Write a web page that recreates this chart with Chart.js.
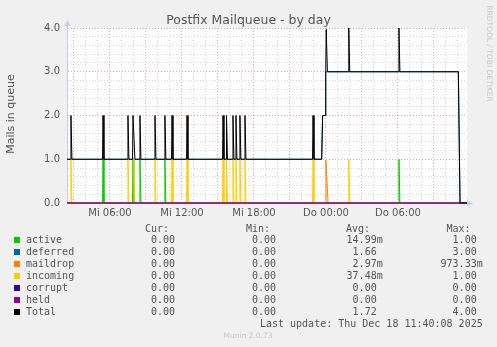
<!DOCTYPE html>
<html lang="en">
<head>
<meta charset="UTF-8">
<title>Postfix Mailqueue - by day</title>
<script src="https://cdn.jsdelivr.net/npm/chart.js"></script>
<style>
    body { margin: 0; background: #f0f0f0; }
    canvas { display: block; }
</style>
</head>
<body>
<canvas id="queueChart" width="497" height="347"></canvas>
<script>
// x values are hours since Wed (Mi) 00:00
const xStart = 2.42;
const xEnd = 35.75;
const xTickHours = [6, 12, 18, 24, 30];
const xTickLabels = ['Mi 06:00', 'Mi 12:00', 'Mi 18:00', 'Do 00:00', 'Do 06:00'];

const seriesNames = ['active', 'deferred', 'maildrop', 'incoming', 'corrupt', 'held', 'Total'];
const seriesColors = ['#00cc00', '#0066b3', '#ff8000', '#ffcc00', '#330099', '#990099', '#000000'];

// [hour, mails]
const active = [[2.42, 0], [5.38, 0], [5.42, 1], [5.5, 0], [7.88, 0], [7.92, 1], [8.0, 0],
    [8.46, 0], [8.5, 1], [8.58, 0], [10.54, 0], [10.58, 1], [10.66, 0],
    [30.04, 0], [30.08, 1], [30.16, 0], [35.75, 0]];
const deferred = [[2.42, 1], [23.64, 1], [23.72, 2], [23.92, 2], [23.98, 3], [35.03, 3], [35.17, 0], [35.75, 0]];
const maildrop = [[2.42, 0], [23.96, 0], [24.0, 0.97], [24.17, 0], [35.75, 0]];
const incoming = [[2.42, 0], [2.71, 0], [2.75, 1], [2.83, 0], [7.46, 0], [7.5, 1], [7.58, 0],
    [7.96, 0], [8.0, 1], [8.08, 0], [9.71, 0], [9.75, 1], [9.83, 0], [11.13, 0], [11.17, 1], [11.25, 0],
    [12.38, 0], [12.42, 1], [12.5, 0], [15.38, 0], [15.42, 1], [15.5, 0], [15.67, 0], [15.71, 1], [15.79, 0],
    [16.21, 0], [16.25, 1], [16.33, 0], [16.46, 0], [16.5, 1], [16.58, 0], [16.79, 0], [16.83, 1], [16.91, 0],
    [17.21, 0], [17.25, 1], [17.33, 0], [22.88, 0], [22.92, 1], [23.0, 0], [25.86, 0], [25.9, 1], [25.98, 0],
    [35.75, 0]];
const corrupt = [[2.42, 0], [35.75, 0]];
const held = [[2.42, 0], [35.75, 0]];
const total = [[2.42, 1], [2.71, 1], [2.75, 2], [2.83, 1], [5.38, 1], [5.42, 2], [5.5, 1],
    [7.46, 1], [7.5, 2], [7.58, 1], [7.88, 1], [7.92, 2], [8.0, 2], [8.08, 1], [8.46, 1], [8.5, 2], [8.58, 1],
    [9.71, 1], [9.75, 2], [9.83, 1], [10.54, 1], [10.58, 2], [10.66, 1], [11.13, 1], [11.17, 2], [11.25, 1],
    [12.38, 1], [12.42, 2], [12.5, 1], [15.38, 1], [15.42, 2], [15.5, 1], [15.67, 1], [15.71, 2], [15.79, 1],
    [16.21, 1], [16.25, 2], [16.33, 1], [16.46, 1], [16.5, 2], [16.58, 1], [16.79, 1], [16.83, 2], [16.91, 1],
    [17.21, 1], [17.25, 2], [17.33, 1], [22.88, 1], [22.92, 2], [23.0, 1],
    [23.64, 1], [23.72, 2], [23.92, 2], [23.98, 3], [24.02, 3.97], [24.12, 3],
    [25.86, 3], [25.9, 4], [25.98, 3], [30.04, 3], [30.08, 4], [30.16, 3],
    [35.03, 3], [35.17, 0], [35.75, 0]];
const seriesData = [active, deferred, maildrop, incoming, corrupt, held, total];

// legend table
const curValues = ['0.00 ', '0.00 ', '0.00 ', '0.00 ', '0.00 ', '0.00 ', '0.00 '];
const minValues = ['0.00 ', '0.00 ', '0.00 ', '0.00 ', '0.00 ', '0.00 ', '0.00 '];
const avgValues = ['14.99m', '1.66 ', '2.97m', '37.48m', '0.00 ', '0.00 ', '1.72 '];
const maxValues = ['1.00 ', '3.00 ', '973.33m', '1.00 ', '0.00 ', '0.00 ', '4.00 '];
const lastUpdate = 'Last update: Thu Dec 18 11:40:08 2025';

const textColor = '#555555';
const majorGrid = '#e6a8a8';
const minorGrid = '#d4d4d4';
const axisColor = '#c4ccf4';

const munin = {
    id: 'munin',
    beforeDraw(chart) {
        const { ctx, chartArea: a } = chart;
        ctx.save();
        ctx.fillStyle = '#f0f0f0';
        ctx.fillRect(0, 0, chart.width, chart.height);
        ctx.fillStyle = '#ffffff';
        ctx.fillRect(a.left, a.top, a.right - a.left, a.bottom - a.top);
        ctx.restore();
    },
    afterDraw(chart) {
        const { ctx, chartArea: a } = chart;
        ctx.save();

        // axis arrows
        ctx.fillStyle = axisColor;
        ctx.strokeStyle = axisColor;
        ctx.lineWidth = 1;
        ctx.beginPath();
        ctx.moveTo(a.left + 0.5, a.top);
        ctx.lineTo(a.left + 0.5, a.top - 5);
        ctx.stroke();
        ctx.beginPath();
        ctx.moveTo(a.left + 0.5, a.top - 8);
        ctx.lineTo(a.left - 2.5, a.top - 2);
        ctx.lineTo(a.left + 3.5, a.top - 2);
        ctx.fill();
        ctx.beginPath();
        ctx.moveTo(a.right + 6, a.bottom + 0.5);
        ctx.lineTo(a.right, a.bottom - 2.5);
        ctx.lineTo(a.right, a.bottom + 3.5);
        ctx.fill();

        // title and labels
        ctx.fillStyle = textColor;
        ctx.font = '12.5px "DejaVu Sans"';
        ctx.textAlign = 'center';
        ctx.textBaseline = 'alphabetic';
        ctx.fillText('Postfix Mailqueue - by day', 248.5, 24);

        ctx.save();
        ctx.translate(14.3, 114);
        ctx.rotate(-Math.PI / 2);
        ctx.font = '11px "DejaVu Sans"';
        ctx.fillText('Mails in queue', 0, 0);
        ctx.restore();

        ctx.save();
        ctx.translate(488.5, 53.5);
        ctx.rotate(Math.PI / 2);
        ctx.font = '7.5px "DejaVu Sans"';
        ctx.fillStyle = '#c8c8c8';
        ctx.textBaseline = 'middle';
        ctx.fillText('RRDTOOL / TOBI OETIKER', 0, 0);
        ctx.restore();

        // legend table
        ctx.font = '10px "DejaVu Sans Mono"';
        ctx.textAlign = 'left';
        ctx.fillText('Cur:', 145, 231.5);
        ctx.fillText('Min:', 246, 231.5);
        ctx.fillText('Avg:', 346, 231.5);
        ctx.fillText('Max:', 446.5, 231.5);
        seriesNames.forEach((name, i) => {
            const y = 243.3 + 12 * i;
            ctx.fillStyle = seriesColors[i];
            ctx.fillRect(14, y - 6.3, 6, 6);
            ctx.fillStyle = textColor;
            ctx.textAlign = 'left';
            ctx.fillText(name, 26, y);
            ctx.textAlign = 'right';
            ctx.fillText(curValues[i], 181, y);
            ctx.fillText(minValues[i], 282, y);
            ctx.fillText(avgValues[i], 382.7, y);
            ctx.fillText(maxValues[i], 482.7, y);
        });
        ctx.fillText(lastUpdate, 482.7, 327.3);

        ctx.textAlign = 'center';
        ctx.font = '7.5px "DejaVu Sans"';
        ctx.fillStyle = '#c8c8c8';
        ctx.fillText('Munin 2.0.73', 248, 338);
        ctx.restore();
    }
};

const datasets = seriesNames.map((name, i) => ({
    label: name,
    data: seriesData[i].map(p => ({ x: p[0], y: p[1] })),
    borderColor: seriesColors[i],
    borderWidth: 1,
    pointRadius: 0,
    tension: 0,
    fill: false,
    clip: false,
    order: seriesNames.length - 1 - i
}));

const ctx = document.getElementById('queueChart').getContext('2d');
new Chart(ctx, {
    type: 'line',
    data: { datasets: datasets },
    plugins: [munin],
    options: {
        responsive: false,
        animation: false,
        devicePixelRatio: 1,
        events: [],
        layout: { padding: { top: 28, right: 30, bottom: 124, left: 0 } },
        plugins: {
            legend: { display: false },
            tooltip: { enabled: false }
        },
        scales: {
            x: {
                type: 'linear',
                min: xStart,
                max: xEnd,
                afterFit(scale) { scale.height = 20; },
                afterBuildTicks(scale) {
                    const ticks = [];
                    for (let h = Math.ceil(xStart); h <= xEnd; h++) ticks.push({ value: h });
                    scale.ticks = ticks;
                },
                grid: {
                    drawTicks: false,
                    color: c => (c.tick && c.tick.value % 3 === 0) ? majorGrid : minorGrid
                },
                border: { display: true, color: axisColor, dash: [1, 2] },
                ticks: {
                    autoSkip: false,
                    maxRotation: 0,
                    padding: 4,
                    color: textColor,
                    font: { family: 'DejaVu Sans', size: 10 },
                    callback: v => {
                        const k = xTickHours.indexOf(v);
                        return k >= 0 ? xTickLabels[k] : '';
                    }
                }
            },
            y: {
                min: 0,
                max: 4,
                afterFit(scale) { scale.width = 67; },
                grid: {
                    drawTicks: false,
                    color: c => (c.tick && Math.abs(c.tick.value - Math.round(c.tick.value)) < 1e-6) ? majorGrid : minorGrid
                },
                border: { display: true, color: axisColor, dash: [1, 2] },
                ticks: {
                    stepSize: 0.2,
                    autoSkip: false,
                    padding: 7,
                    color: textColor,
                    font: { family: 'DejaVu Sans', size: 10 },
                    callback: v => Math.abs(v - Math.round(v)) < 1e-6 ? v.toFixed(1) : ''
                }
            }
        }
    }
});
</script>
</body>
</html>
